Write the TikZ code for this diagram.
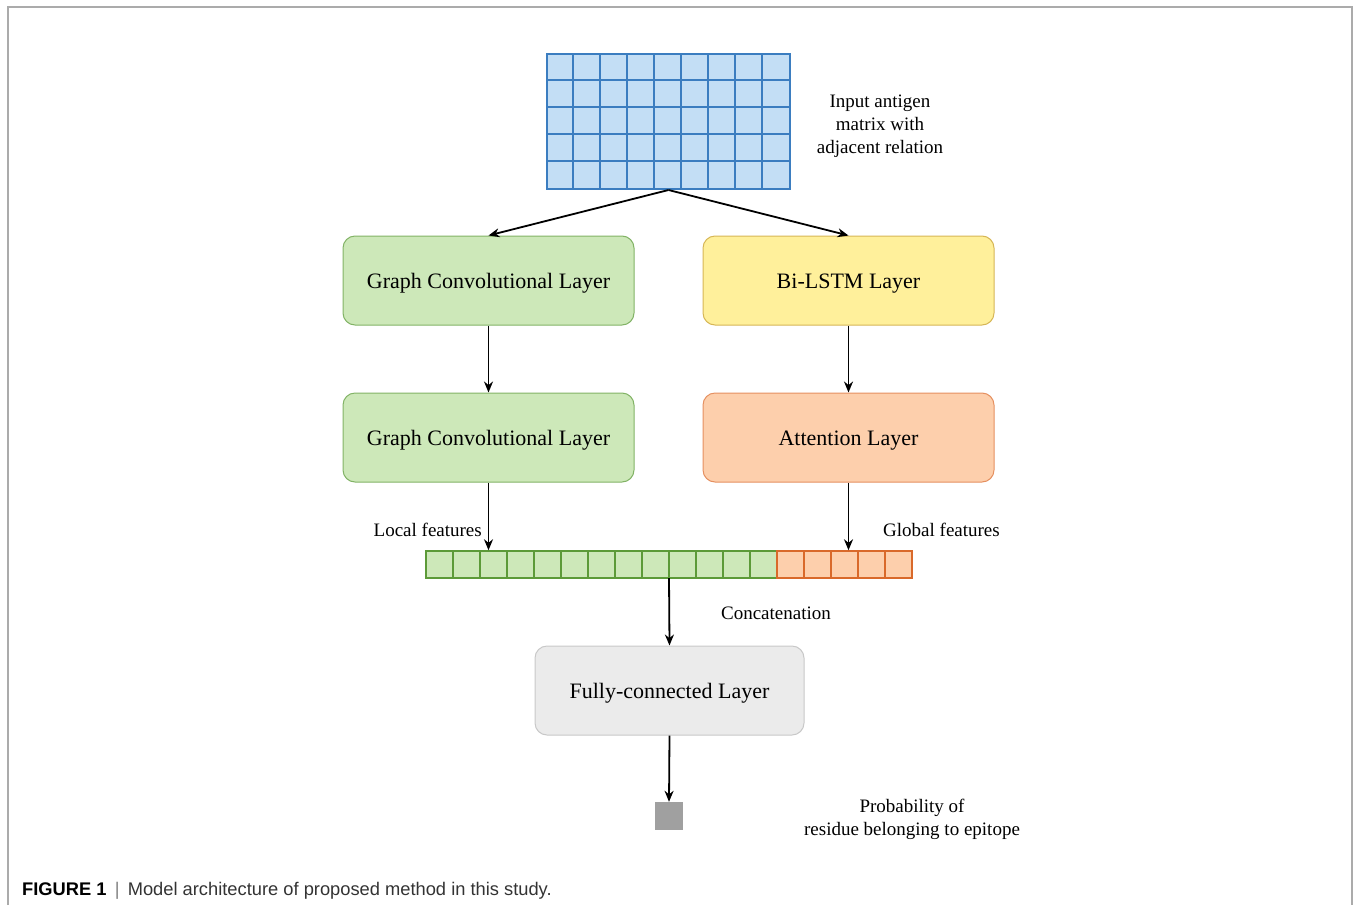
\documentclass[tikz,border=0pt]{standalone}
\usepackage{fontspec}
\setmainfont{Liberation Serif}
\newfontfamily\capfont{Liberation Sans}
\usetikzlibrary{arrows.meta}

\definecolor{matfill}{HTML}{C3DEF5}
\definecolor{matline}{HTML}{3B7DC0}
\definecolor{gcfill}{HTML}{CDE8B9}
\definecolor{gcline}{HTML}{82B366}
\definecolor{gcdark}{HTML}{5C9A38}
\definecolor{lstmfill}{HTML}{FFF09B}
\definecolor{lstmline}{HTML}{D6B656}
\definecolor{attfill}{HTML}{FDCFAC}
\definecolor{attline}{HTML}{E59060}
\definecolor{attdark}{HTML}{D9692A}
\definecolor{fcfill}{HTML}{EBEBEB}
\definecolor{fcline}{HTML}{C8C8C8}
\definecolor{outfill}{HTML}{A0A0A0}
\definecolor{framegray}{HTML}{ABABAB}

\tikzset{
  layerbox/.style={rectangle, rounded corners=12pt, line width=1pt,
    minimum width=291pt, minimum height=89pt, inner sep=0pt,
    text height=16pt, text depth=0pt,
    font=\fontsize{22}{26}\selectfont},
  gcbox/.style={layerbox, fill=gcfill, draw=gcline},
  lstmbox/.style={layerbox, fill=lstmfill, draw=lstmline},
  attbox/.style={layerbox, fill=attfill, draw=attline},
  fcbox/.style={layerbox, fill=fcfill, draw=fcline, minimum width=269pt},
  cellg/.style={rectangle, fill=gcfill, draw=gcdark, line width=1.5pt,
    minimum width=27pt, minimum height=27pt, inner sep=0pt},
  cello/.style={cellg, fill=attfill, draw=attdark},
  lbl/.style={font=\fontsize{19}{23}\selectfont, align=center, inner sep=0pt},
  conn/.style={line width=1.8pt, -{Stealth[length=11pt,width=9pt]}},
}

\begin{document}
\begin{tikzpicture}[x=1pt,y=-1pt]
\useasboundingbox (0,0) rectangle (1356,905);

% open frame round the figure
\draw[framegray, line width=1.5pt] (8,905) -- (8,7) -- (1352,7) -- (1352,905);

% input matrix, 9 x 5 cells
\node[rectangle, fill=matfill, draw=matline, line width=2pt, inner sep=0pt,
  minimum width=243pt, minimum height=135pt] (mat) at (668.5,121.5) {};
\foreach \i in {1,...,8}
  \draw[matline, line width=2pt] ([xshift=27*\i pt]mat.north west) -- ([xshift=27*\i pt]mat.south west);
\foreach \j in {1,...,4}
  \draw[matline, line width=2pt] ([yshift=-27*\j pt]mat.north west) -- ([yshift=-27*\j pt]mat.north east);
\node[lbl] (inlbl) at (880,126) {Input antigen\\matrix with\\adjacent relation};

% layer boxes
\node[gcbox] (gc1) at (488.5,280.5) {Graph Convolutional Layer};
\node[lstmbox] (lstm) at (848.5,280.5) {Bi-LSTM Layer};
\node[gcbox] (gc2) at (488.5,437.5) {Graph Convolutional Layer};
\node[attbox] (att) at (848.5,437.5) {Attention Layer};

% concatenated feature vector: 13 local + 5 global cells
\foreach \k in {1,...,13}
  \node[cellg] (c\k) at (426+27*\k-13.5,564.5) {};
\foreach \k in {14,...,18}
  \node[cello] (c\k) at (426+27*\k-13.5,564.5) {};
\coordinate (vecbot) at (669,578);

\node[lbl, anchor=east] (loclbl) at (482,530) {Local features};
\node[lbl, anchor=west] (glblbl) at (883,530) {Global features};
\node[lbl] (catlbl) at (776,613) {Concatenation};

\node[fcbox] (fc) at (669.5,690.5) {Fully-connected Layer};

% output probability
\node[rectangle, fill=outfill, minimum width=28pt, minimum height=28pt, inner sep=0pt] (out) at (669,816) {};
\node[lbl] (outlbl) at (912,819) {Probability of\\residue belonging to epitope};

% connectors
\draw[conn] (mat.south) -- (gc1.north);
\draw[conn] (mat.south) -- (lstm.north);
\draw[conn] (gc1.south) -- (gc2.north);
\draw[conn] (lstm.south) -- (att.north);
\draw[conn] (gc2.south) -- (gc2.south |- c1.north);
\draw[conn] (att.south) -- (att.south |- c1.north);
\draw[conn] (vecbot) -- (fc.north);
\draw[conn] (fc.south) -- (out.north);

% caption
\node[anchor=base west, inner sep=0pt, font=\capfont\fontsize{18.3}{22}\selectfont] (cap) at (22,895)
  {\textbf{FIGURE 1}\hspace{0.45em}{\color{gray}|}\hspace{0.45em}{\color[HTML]{333333}Model architecture of proposed method in this study.}};
\end{tikzpicture}
\end{document}
